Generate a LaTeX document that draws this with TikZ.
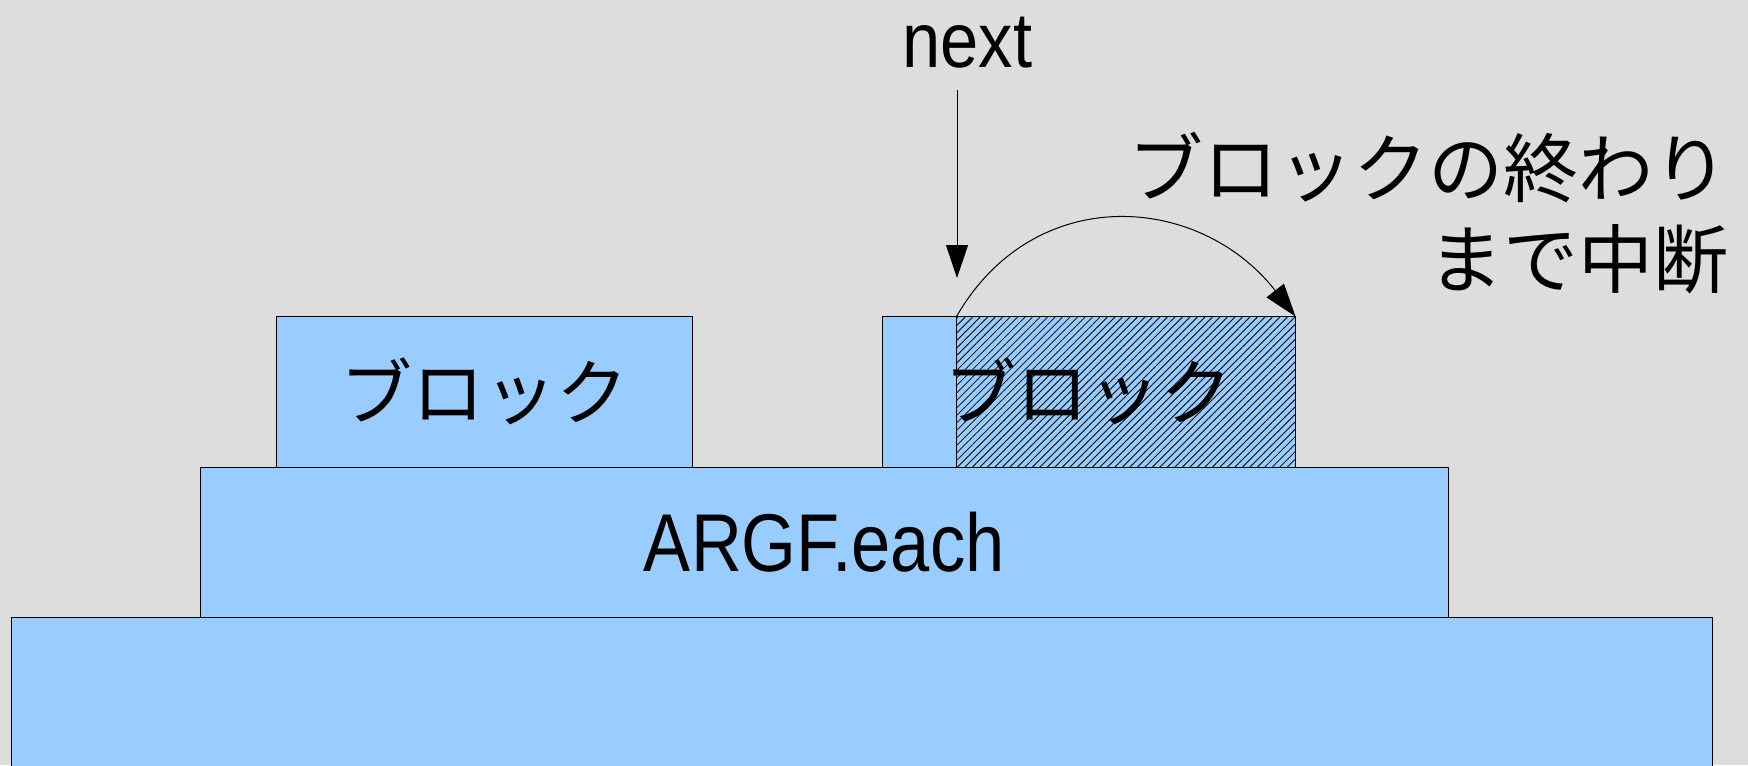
\documentclass[tikz,border=0pt]{standalone}
\usepackage{fontspec}
\setmainfont{Liberation Sans}[FakeStretch=0.88]
\newfontfamily\argffont{Liberation Sans}[FakeStretch=0.86]
\newfontfamily\jpfont{Noto Sans CJK JP}
\usetikzlibrary{arrows.meta,patterns.meta}
\definecolor{bgcol}{HTML}{DDDDDD}
\definecolor{blockblue}{HTML}{99CCFF}
\tikzset{
  layerbox/.style={draw=black, line width=0.5pt, fill=blockblue,
    inner sep=0pt, outer sep=0pt, anchor=center},
  hatchbox/.style={draw=black, line width=0.5pt,
    pattern={Lines[angle=45,distance=2.65pt,line width=0.42pt]},
    inner sep=0pt, outer sep=0pt, anchor=center},
  latintext/.style={font=\fontsize{39pt}{47pt}\selectfont},
  layertext/.style={font=\argffont\fontsize{41pt}{49pt}\selectfont},
  jptext/.style={font=\jpfont\fontsize{36pt}{45pt}\selectfont},
  notetext/.style={font=\jpfont\fontsize{37.5pt}{45.5pt}\selectfont},
  arrowline/.style={draw=black, line width=0.5pt,
    -{Triangle[length=16.5pt,width=11pt]}},
}
\begin{document}
\begin{tikzpicture}[x=0.5pt,y=-0.5pt]
  \useasboundingbox (0,0) rectangle (1748,765);
  \clip (0,0) rectangle (1748,765);
  \fill[bgcol] (0,0) rectangle (1748,765);

  % stacked layers
  \node[layerbox, minimum width=850.5pt, minimum height=86.25pt] (base) at (861.5,703.75) {};
  \node[layerbox, layertext, minimum width=623.75pt, minimum height=75.25pt] (argf) at (824.25,542.25) {ARGF.each};
  \node[layerbox, jptext, minimum width=208pt, minimum height=75.25pt] (blockA) at (484.5,391.75) {ブロック};
  \node[layerbox, jptext, minimum width=206.75pt, minimum height=75.25pt] (blockB) at (1088.75,391.75) {ブロック};

  % skipped part of the second block
  \node[hatchbox, minimum width=169.5pt, minimum height=75.25pt] (skip) at (1126,391.75) {};

  % next pointer
  \node[latintext, inner sep=0pt, anchor=base] (nextlbl) at (967.5,68) {next};
  \coordinate (nextfrom) at (957,90);
  \coordinate (nextto) at (957,278);
  \draw[arrowline] (nextfrom) -- (nextto);

  % jump to the end of the block
  \draw[arrowline] (skip.north west) to[out=60,in=128,looseness=1.18] (skip.north east);

  \node[notetext, align=right, inner sep=0pt, anchor=north east] (note) at (1729,132)
    {ブロックの終わり\\まで中断};
\end{tikzpicture}
\end{document}
